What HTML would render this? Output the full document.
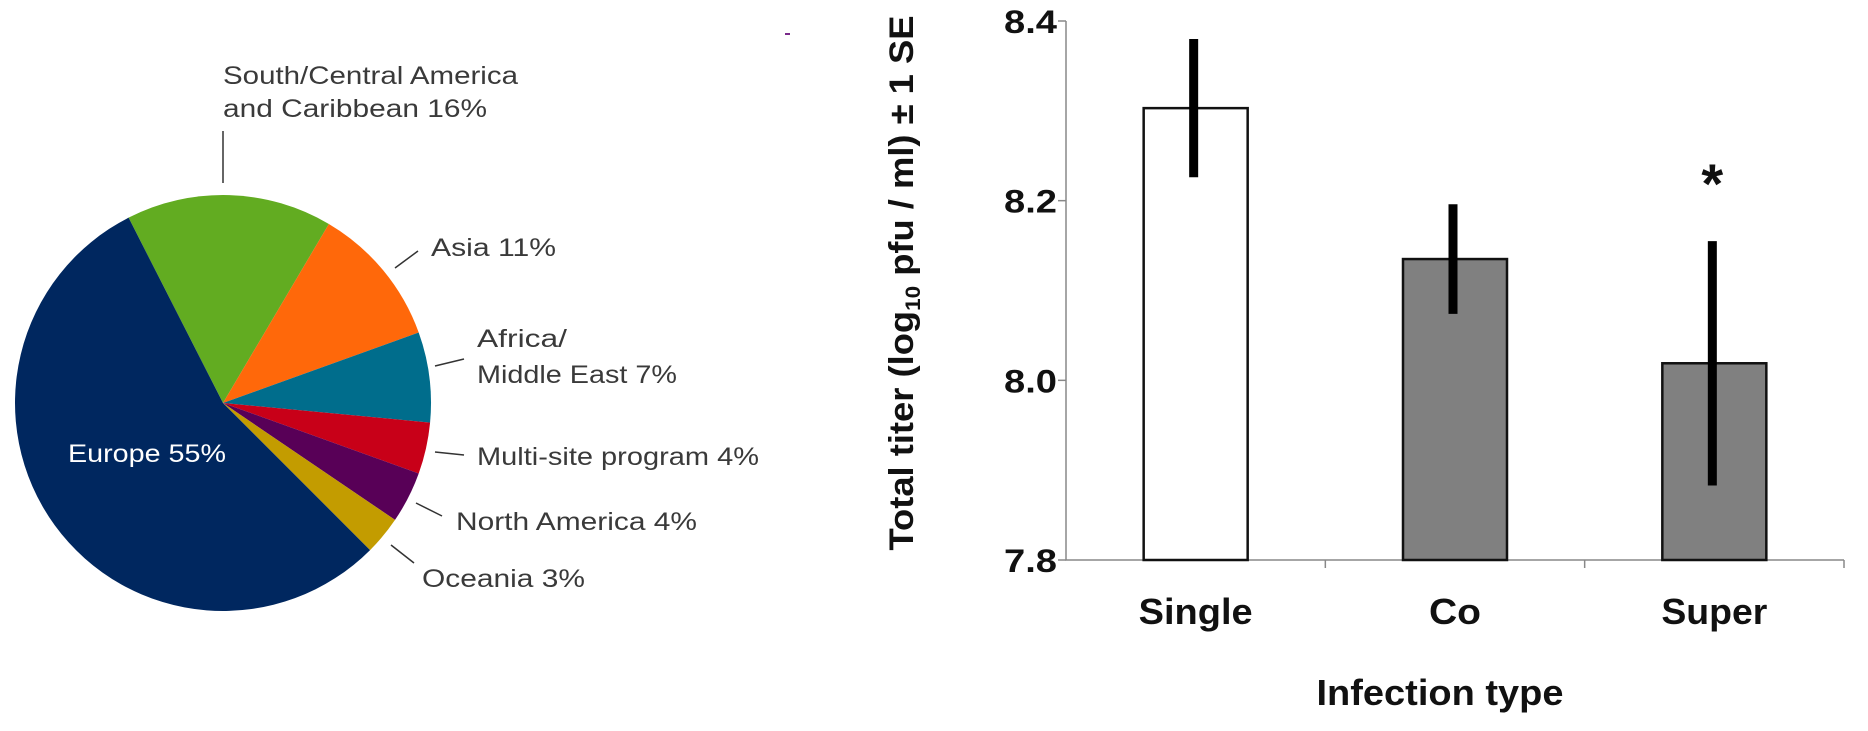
<!DOCTYPE html>
<html><head><meta charset="utf-8"><style>
html,body{margin:0;padding:0;background:#fff;width:1868px;height:731px;overflow:hidden}
svg{display:block}
.pl{font-family:"Liberation Sans",sans-serif;font-size:25px;fill:#3a3a3a}
.bl{font-family:"Liberation Sans",sans-serif;font-weight:bold;fill:#111}
</style></head><body>
<svg id="root" width="1868" height="731" viewBox="0 0 1868 731">
<g id="pie"></g>
<g id="pielabels">
<text class="pl" x="223" y="84" textLength="295" lengthAdjust="spacingAndGlyphs">South/Central America</text>
<text class="pl" x="223" y="117" textLength="264" lengthAdjust="spacingAndGlyphs">and Caribbean 16%</text>
<line x1="223" y1="131" x2="223" y2="183" stroke="#333" stroke-width="1.5"/>
<text class="pl" x="431" y="256" textLength="125" lengthAdjust="spacingAndGlyphs">Asia 11%</text>
<line x1="395" y1="268" x2="418" y2="251" stroke="#333" stroke-width="1.5"/>
<text class="pl" x="477" y="347" textLength="90" lengthAdjust="spacingAndGlyphs">Africa/</text>
<text class="pl" x="477" y="383" textLength="200" lengthAdjust="spacingAndGlyphs">Middle East 7%</text>
<line x1="435" y1="366" x2="464" y2="359" stroke="#333" stroke-width="1.5"/>
<text class="pl" x="477" y="465" textLength="282" lengthAdjust="spacingAndGlyphs">Multi-site program 4%</text>
<line x1="435" y1="452" x2="464" y2="455" stroke="#333" stroke-width="1.5"/>
<text class="pl" x="456" y="530" textLength="241" lengthAdjust="spacingAndGlyphs">North America 4%</text>
<line x1="416" y1="503" x2="442" y2="516" stroke="#333" stroke-width="1.5"/>
<text class="pl" x="422" y="587" textLength="163" lengthAdjust="spacingAndGlyphs">Oceania 3%</text>
<line x1="391" y1="545" x2="414" y2="563" stroke="#333" stroke-width="1.5"/>
<text class="pl" x="68" y="462" textLength="158" lengthAdjust="spacingAndGlyphs" style="fill:#fff">Europe 55%</text>
<line x1="785" y1="34" x2="790" y2="34" stroke="#7a2a8a" stroke-width="2"/>
</g>
<g id="bar"></g>
<text class="bl" font-size="34" transform="translate(913,283) rotate(-90)" text-anchor="middle" textLength="535" lengthAdjust="spacingAndGlyphs">Total titer (log<tspan font-size="21" dy="7">10</tspan><tspan dy="-7"> pfu / ml) ± 1 SE</tspan></text>
<text class="bl" font-size="36" x="1440" y="705" text-anchor="middle" textLength="247" lengthAdjust="spacingAndGlyphs">Infection type</text>
</svg>
<script>
// Pie data
const pieNames = ["South/Central America and Caribbean","Asia","Africa/Middle East","Multi-site program","North America","Oceania","Europe"];
const pieValues = [16,11,7,4,4,3,55];
const pieColors = ["#62ac21","#ff680a","#006d8c","#c80018","#580057","#c39c00","#00275f"];
// Bar data
const categories = ["Single","Co","Super"];
const means = [8.303,8.135,8.019];
const ses = [0.077,0.061,0.136];
const barFills = ["#ffffff","#808080","#808080"];
const yTicks = [7.8,8.0,8.2,8.4];
const yTickLabels = ["7.8","8.0","8.2","8.4"];
const sigMarks = ["","","*"];
const labelWidths = [114,52,106];

const NS="http://www.w3.org/2000/svg";
function mk(t,a){const e=document.createElementNS(NS,t);for(const k in a)e.setAttribute(k,a[k]);return e;}

// pie
const pie=document.getElementById('pie');
const cx=223,cy=403,r=208,startDeg=-27;
const total=pieValues.reduce((a,b)=>a+b,0);
let acc=0;
pieValues.forEach((v,i)=>{
  const a0=(startDeg+acc/total*360)*Math.PI/180;
  acc+=v;
  const a1=(startDeg+acc/total*360)*Math.PI/180;
  const x0=cx+r*Math.sin(a0),y0=cy-r*Math.cos(a0),x1=cx+r*Math.sin(a1),y1=cy-r*Math.cos(a1);
  const large=(a1-a0)>Math.PI?1:0;
  const p=mk('path',{d:`M${cx},${cy} L${x0},${y0} A${r},${r} 0 ${large} 1 ${x1},${y1} Z`,fill:pieColors[i]});
  
  
  pie.appendChild(p);
});

// bar chart
const g=document.getElementById('bar');
const x0=1066,x1=1844,yTop=21,yBot=560,yMin=7.8,yMax=8.4;
const ys=v=>yBot-(v-yMin)/(yMax-yMin)*(yBot-yTop);
const band=(x1-x0)/categories.length, bw=104;
const xc=i=>x0+band*(i+0.5);
const ax=mk('path',{d:`M${x0},${yTop} V${yBot} H${x1}`,stroke:'#888',fill:'none','stroke-width':1.5});


g.appendChild(ax);
yTicks.forEach((t,i)=>{
  const tk=mk('line',{x1:x0-8,x2:x0,y1:ys(t),y2:ys(t),stroke:'#888','stroke-width':1.5});
  
  
  g.appendChild(tk);
  const tl=mk('text',{x:1057,y:ys(t)+12,'text-anchor':'end','font-size':32,class:'bl',textLength:53,lengthAdjust:'spacingAndGlyphs'});
  tl.textContent=yTickLabels[i];
  
  
  g.appendChild(tl);
});
for(let i=1;i<=categories.length;i++){
  const tk=mk('line',{x1:x0+band*i,x2:x0+band*i,y1:yBot,y2:yBot+8,stroke:'#888','stroke-width':1.5});
  
  
  g.appendChild(tk);
}
categories.forEach((c,i)=>{
  const b=mk('rect',{x:xc(i)-bw/2,y:ys(means[i]),width:bw,height:yBot-ys(means[i]),fill:barFills[i],stroke:'#111','stroke-width':2.5});
  
  
  g.appendChild(b);
  const e=mk('line',{x1:xc(i)-2,x2:xc(i)-2,y1:ys(means[i]+ses[i]),y2:ys(means[i]-ses[i]),stroke:'#000','stroke-width':9});
  
  
  g.appendChild(e);
  const l=mk('text',{x:xc(i),y:624,'text-anchor':'middle','font-size':36,class:'bl',textLength:labelWidths[i],lengthAdjust:'spacingAndGlyphs'});
  l.textContent=c;
  
  
  g.appendChild(l);
  if(sigMarks[i]){
    const s=mk('text',{x:xc(i)-2,y:ys(means[i]+ses[i])-38,'text-anchor':'middle','font-size':56,class:'bl'});
    s.textContent=sigMarks[i];
    
    
    g.appendChild(s);
  }
});
</script>
</body></html>
